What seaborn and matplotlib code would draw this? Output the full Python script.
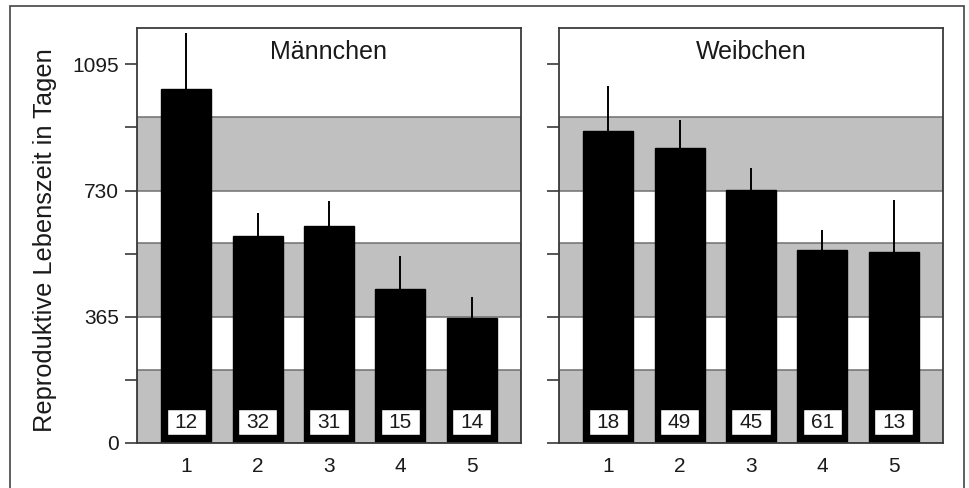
import matplotlib
matplotlib.use("Agg")
import matplotlib.pyplot as plt
from matplotlib.patches import Rectangle
import numpy as np
import pandas as pd
import seaborn as sns

# Reproductive lifespan (days) per class, with upper error and sample size
classes = ["1", "2", "3", "4", "5"]
male_mean = [1024, 599, 628, 444, 362]
male_err = [161, 67, 72, 98, 61]
male_n = [12, 32, 31, 15, 14]
female_mean = [902, 854, 732, 559, 552]
female_err = [131, 79, 64, 57, 151]
female_n = [18, 49, 45, 61, 13]

panels = [("Männchen", male_mean, male_err, male_n),
          ("Weibchen", female_mean, female_err, female_n)]

# shaded seasons within each year of the lifespan
band_starts = [0, 365, 730]
band_length = 212

sns.set_theme(style="white")
plt.rcParams["font.family"] = ["Liberation Sans", "DejaVu Sans"]
text_color = "#1a1a1a"
spine_color = "#3a3a3a"

fig = plt.figure(figsize=(9.7, 4.88), dpi=100)
fig.patch.set_facecolor("white")

# outer frame around the whole figure
fig.add_artist(Rectangle((10 / 970, -0.05), 954 / 970, (488 - 6) / 488 + 0.05,
                         transform=fig.transFigure, fill=False,
                         edgecolor="#444444", linewidth=1.2))

axes_lefts = [137 / 970, 559 / 970]
for k, (title, means, errs, ns) in enumerate(panels):
    ax = fig.add_axes([axes_lefts[k], 45 / 488, 384 / 970, 415 / 488])
    df = pd.DataFrame({"Klasse": classes, "Tage": means})

    for s in band_starts:
        ax.axhspan(s, s + band_length, facecolor="#c0c0c0",
                   edgecolor="#707070", linewidth=1.1, zorder=0)

    sns.barplot(data=df, x="Klasse", y="Tage", color="black", width=0.7,
                errorbar=None, edgecolor="black", linewidth=1.0,
                saturation=1, ax=ax, zorder=2)

    xs = np.arange(len(classes))
    ax.errorbar(xs, means, yerr=[np.zeros(len(errs)), errs], fmt="none",
                ecolor="black", elinewidth=1.4, capsize=0, zorder=3)

    for i, n in enumerate(ns):
        ax.add_patch(Rectangle((i - 0.275, 22), 0.55, 76, facecolor="white",
                               edgecolor="black", linewidth=1.0, zorder=4))
        ax.text(i, 59, str(n), ha="center", va="center", fontsize=15,
                color=text_color, zorder=5)

    ax.text(0.5, 0.942, title, transform=ax.transAxes, ha="center",
            va="center", fontsize=18, color=text_color)

    ax.set_xlim(-0.69, 4.69)
    ax.set_ylim(0, 1200)
    ax.set_yticks([0, 182.5, 365, 547.5, 730, 912.5, 1095])
    if k == 0:
        ax.set_yticklabels(["0", "", "365", "", "730", "", "1095"])
        ax.set_ylabel("Reproduktive Lebenszeit in Tagen", fontsize=18.3,
                      color=text_color)
        ax.yaxis.set_label_coords(-0.208, 0.49)
    else:
        ax.set_yticklabels([])
        ax.set_ylabel("")
    ax.set_xlabel("")
    ax.tick_params(axis="y", direction="out", length=9, width=1.2,
                   colors=spine_color, labelsize=15, labelcolor=text_color,
                   left=True, pad=4)
    ax.tick_params(axis="x", length=0, labelsize=15, labelcolor=text_color,
                   pad=10)
    for sp in ax.spines.values():
        sp.set_color(spine_color)
        sp.set_linewidth(1.3)
        sp.set_visible(True)
        sp.set_zorder(6)

fig.savefig("out.png", dpi=100, facecolor="white")
